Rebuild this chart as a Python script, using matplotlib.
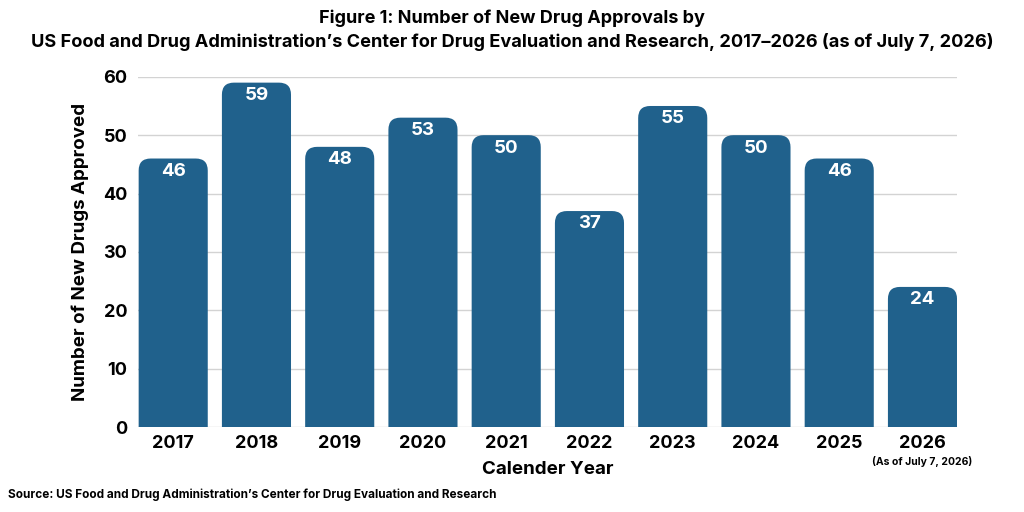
import matplotlib
matplotlib.use("Agg")
import matplotlib.pyplot as plt
from matplotlib.patches import FancyBboxPatch

# Data
years = ["2017", "2018", "2019", "2020", "2021", "2022", "2023", "2024", "2025", "2026"]
approvals = [46, 59, 48, 53, 50, 37, 55, 50, 46, 24]
y_ticks = [0, 10, 20, 30, 40, 50, 60]

bar_color = "#20618c"
plt.rcParams['font.family'] = ['Inter', 'DejaVu Sans']

fig = plt.figure(figsize=(10.24, 5.12), dpi=100)
ax = fig.add_axes([0.135, 0.166, 0.8, 0.684])

x = list(range(len(years)))
bars = ax.bar(x, approvals, width=0.83, color=bar_color)

ax.set_xlim(-0.42, len(years) - 1 + 0.42)
ax.set_ylim(0, 60)

# Afgeronde bovenhoeken: vervang de rechthoeken door FancyBboxPatch
px_per_x = 0.8 * 1024 / (ax.get_xlim()[1] - ax.get_xlim()[0])
px_per_y = 0.684 * 512 / 60
r = 12 / px_per_x
for b in bars:
    b.set_visible(False)
    p = FancyBboxPatch((b.get_x(), -6), b.get_width(), b.get_height() + 6,
                       boxstyle="round,pad=0,rounding_size=%f" % r,
                       mutation_aspect=px_per_x / px_per_y,
                       facecolor=bar_color, edgecolor="none", zorder=3)
    ax.add_patch(p)
    ax.text(b.get_x() + b.get_width() / 2, b.get_height() - 2.2, str(int(b.get_height())),
            ha="center", va="center", color="white", fontsize=13.5, fontweight="bold", zorder=4)

ax.set_yticks(y_ticks)
ax.set_xticks(x)
ax.set_xticklabels(years, fontsize=13, fontweight="bold")
ax.set_yticklabels([str(v) for v in y_ticks], fontsize=13, fontweight="bold")
ax.tick_params(length=0, pad=8)
ax.tick_params(axis="x", pad=6)
ax.grid(axis="y", color="#d3d3d3", linewidth=1, zorder=0)
ax.set_axisbelow(True)
for s in ax.spines.values():
    s.set_visible(False)

ax.annotate("(As of July 7, 2026)", xy=(9, 0), xycoords=("data", "axes fraction"),
            xytext=(0, -25), textcoords="offset points", ha="center", va="center",
            fontsize=7.5, fontweight="bold")

ax.set_xlabel("Calender Year", fontsize=13.5, fontweight="bold", labelpad=6)
ax.set_ylabel("Number of New Drugs Approved", fontsize=13.5, fontweight="bold", labelpad=10)

fig.text(0.5, 0.965, "Figure 1: Number of New Drug Approvals by", ha="center", va="center",
         fontsize=13, fontweight="bold")
fig.text(0.5, 0.918, "US Food and Drug Administration\u2019s Center for Drug Evaluation and Research, 2017\u20132026 (as of July 7, 2026)",
         ha="center", va="center", fontsize=13.1, fontweight="bold")
fig.text(0.008, 0.033, "Source: US Food and Drug Administration\u2019s Center for Drug Evaluation and Research",
         ha="left", va="center", fontsize=8.5, fontweight="bold")

fig.savefig("out.png", dpi=100)
